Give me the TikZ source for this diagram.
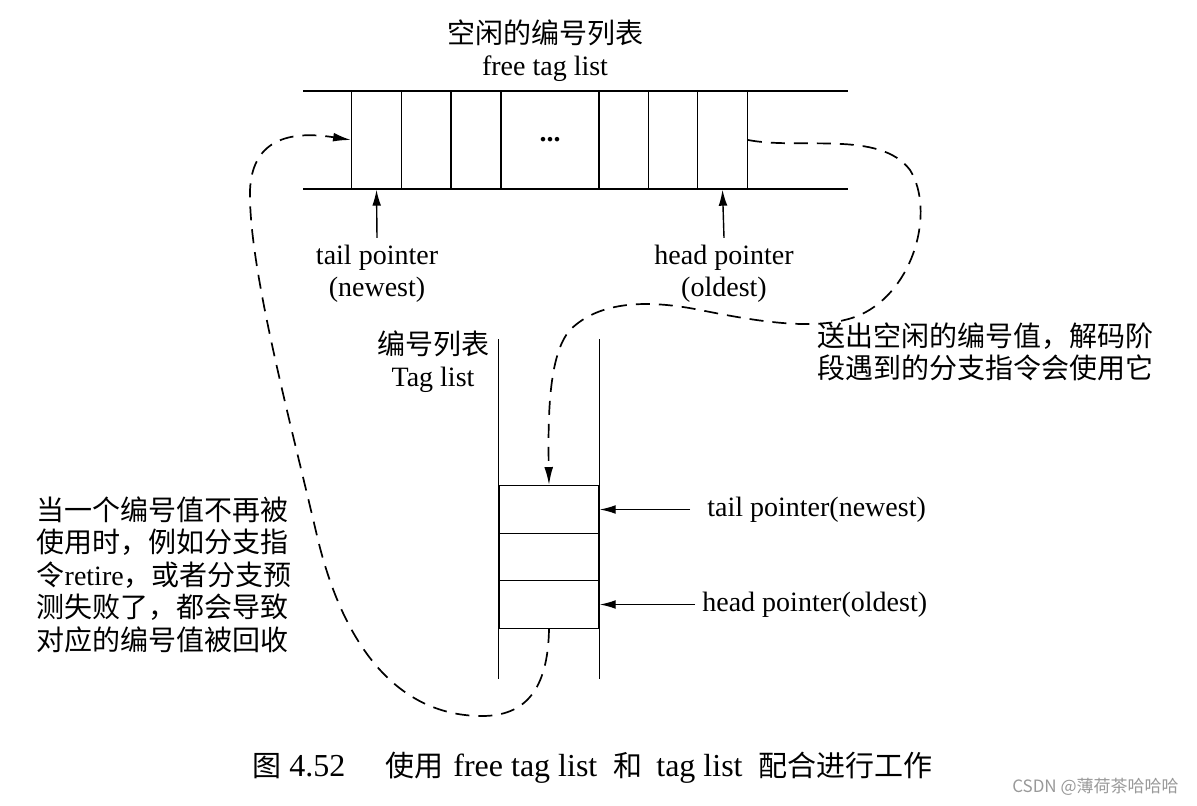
\documentclass[tikz,border=0pt]{standalone}
\usepackage{fontspec}
\setmainfont{Liberation Serif}
\newfontfamily\cjk{Noto Sans CJK SC}
\usetikzlibrary{arrows.meta,positioning}
\newcommand{\zh}[1]{{\cjk #1}}

\begin{document}
\begin{tikzpicture}[x=0.5pt,y=-0.5pt,line width=0.7pt,
every node/.style={font=\fontsize{14}{16}\selectfont},
cell/.style={draw,minimum width=24.75pt,minimum height=49pt,inner sep=0pt},
tcell/.style={draw,minimum width=50pt,minimum height=23.75pt,inner sep=0pt},
ptr/.style={-{Latex[length=8pt,width=4.4pt]}},
flow/.style={line width=0.85pt,dash pattern=on 7pt off 4.5pt,-{Latex[length=9pt,width=4.4pt]}},
note/.style={align=left,anchor=north west,inner sep=0pt,font=\fontsize{14}{16.25}\selectfont\cjk}]
\path[use as bounding box] (0,0) rectangle (1197,806);

\node[align=center] (title) at (545,51) {\zh{空闲的编号列表}\\free tag list};
\draw (303,91) -- (848,91); \draw (303,189) -- (848,189);
\node[cell] (f1) at (376.5,140) {};
\node[cell] (f2) at (426,140) {};
\node[cell] (f3) at (476,140) {};
\node[cell,minimum width=49pt] (f4) at (550,140) {\textbf{...}};
\node[cell] (f5) at (623.5,140) {};
\node[cell] (f6) at (673,140) {};
\node[cell] (f7) at (722.5,140) {};

\node[align=center] (tailp) at (377,274) {tail pointer\\(newest)};
\node[align=center] (headp) at (724,274) {head pointer\\(oldest)};
\draw[ptr] (tailp.north) -- (f1.south);
\draw[ptr] (headp.north) -- (f7.south);

\node[align=center] (tagname) at (433,362) {\zh{编号列表}\\Tag list};
\node[tcell] (t1) at (549,509.5) {};
\node[tcell] (t2) at (549,557) {};
\node[tcell] (t3) at (549,604.5) {};
\draw (t1.north west) -- ++(0,-146); \draw (t1.north east) -- ++(0,-146);
\draw (t3.south west) -- ++(0,50); \draw (t3.south east) -- ++(0,50);

\node[anchor=west] (tailn) at (700,509.5) {tail pointer(newest)};
\node[anchor=west] (headn) at (695,604.5) {head pointer(oldest)};
\draw[ptr,shorten <=5pt] (tailn.west) -- (t1.east);
\draw[ptr] (headn.west) -- (t3.east);

\node[note] (sendnote) at (817,322) {送出空闲的编号值，解码阶\\段遇到的分支指令会使用它};
\node[note] (backnote) at (36,496) {当一个编号值不再被\\使用时，例如分支指\\令{\rmfamily retire}，或者分支预\\测失败了，都会导致\\对应的编号值被回收};

\draw[flow] (f7.east) .. controls (800,150) and (880,130) .. (910,170)
  .. controls (935,210) and (915,290) .. (860,315)
  .. controls (820,332) and (760,322) .. (700,310)
  .. controls (650,300) and (600,300) .. (570,330)
  .. controls (548,355) and (548,420) .. (t1.north);
\draw[flow] (t3.south) .. controls (548,690) and (525,716) .. (482,716)
  .. controls (400,716) and (345,650) .. (318,540)
  .. controls (290,420) and (252,280) .. (250,200)
  .. controls (248,150) and (275,128) .. (f1.west);

\node[font=\fontsize{16}{18}\selectfont] (caption) at (592.5,768) {\zh{\fontsize{14.5}{18}\selectfont 图}\hspace{4pt}4.52\hspace{20pt}\zh{\fontsize{14.5}{18}\selectfont 使用}\hspace{5pt}free tag list\hspace{8pt}\zh{\fontsize{14.5}{18}\selectfont 和}\hspace{7pt}tag list\hspace{8pt}\zh{\fontsize{14.5}{18}\selectfont 配合进行工作}};
\node[anchor=east,text=gray!80,font=\fontsize{8.5}{10}\selectfont\cjk] (mark) at (1186,787) {CSDN @薄荷茶哈哈哈};
\end{tikzpicture}
\end{document}
